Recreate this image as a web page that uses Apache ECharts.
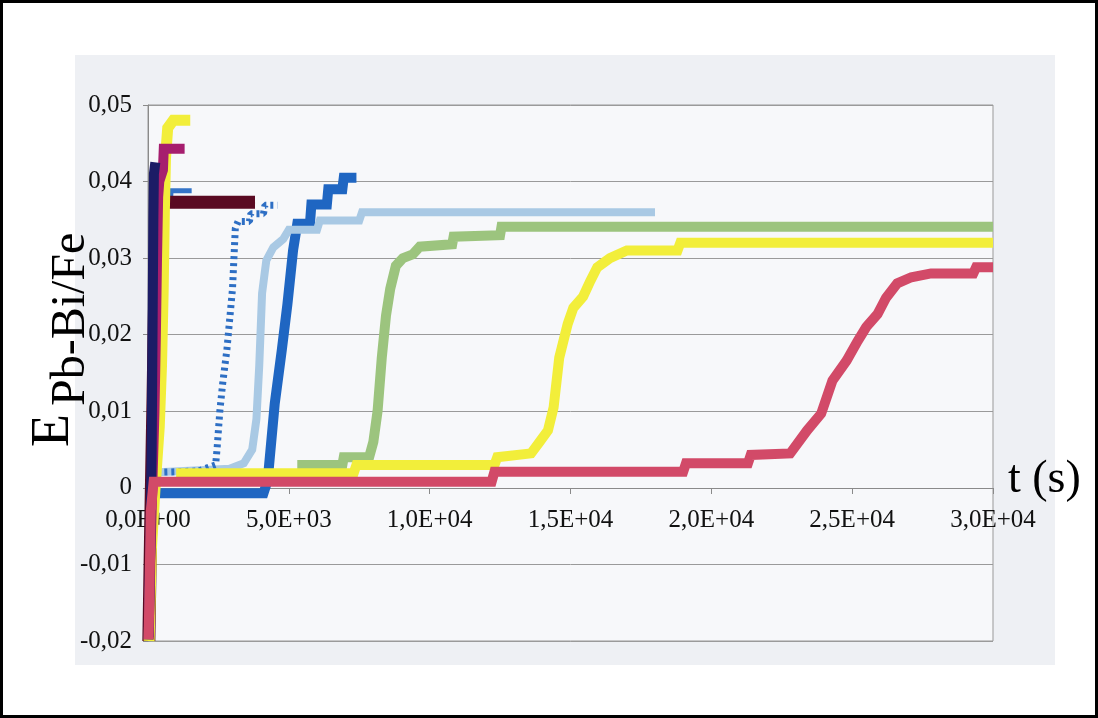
<!DOCTYPE html>
<html><head><meta charset="utf-8">
<script src="https://cdn.jsdelivr.net/npm/echarts@6/dist/echarts.min.js"></script>
<style>html,body{margin:0;padding:0;background:#fff}#c{width:1098px;height:718px}</style>
</head><body><div id="c"></div>
<script>
// ---- tick labels ----
const xTickValues = [0, 5000, 10000, 15000, 20000, 25000, 30000];
const xTickLabels = ['0,0E+00', '5,0E+03', '1,0E+04', '1,5E+04', '2,0E+04', '2,5E+04', '3,0E+04'];
const yTickValues = [-0.02, -0.01, 0, 0.01, 0.02, 0.03, 0.04, 0.05];
const yTickLabels = ['-0,02', '-0,01', '0', '0,01', '0,02', '0,03', '0,04', '0,05'];

// ---- series values: t (s) and E (V) ----
const navyT = [20, 60, 100, 130, 150, 170, 190, 210, 260];
const navyE = [-0.0198, -0.012, -0.004, 0.005, 0.015, 0.025, 0.035, 0.041, 0.0425];

const magT = [30, 80, 150, 230, 280, 320, 360, 400, 530, 560, 1300];
const magE = [-0.0195, -0.01, 0.0, 0.01, 0.02, 0.03, 0.038, 0.04, 0.0415, 0.0443, 0.0443];

const yel2T = [40, 120, 250, 400, 480, 540, 580, 620, 700, 900, 1500];
const yel2E = [-0.02, -0.008, 0.0, 0.008, 0.016, 0.026, 0.036, 0.043, 0.047, 0.048, 0.048];

const marT = [30, 100, 180, 260, 350, 400, 3800];
const marE = [-0.02, -0.004, 0.012, 0.03, 0.036, 0.0373, 0.0373];

const bl39T = [50, 120, 200, 300, 400, 500, 800, 820, 1550];
const bl39E = [-0.02, -0.005, 0.012, 0.028, 0.036, 0.0378, 0.0378, 0.0388, 0.0388];

const dashT = [30, 100, 1800, 2400, 2450, 2550, 2650, 2800, 2900, 3000, 3100, 3200, 3600, 3650, 4100, 4150, 4600];
const dashE = [-0.02, 0.002, 0.0022, 0.003, 0.005, 0.01, 0.0136, 0.018, 0.022, 0.026, 0.0339, 0.0348, 0.0348, 0.0358, 0.0358, 0.0369, 0.0369];

const lbT = [20, 80, 150, 2900, 3400, 3700, 3850, 3950, 4050, 4200, 4450, 4800, 5000, 6000, 6100, 7500, 7600, 18000];
const lbE = [-0.02, -0.008, 0.002, 0.0025, 0.0032, 0.005, 0.009, 0.016, 0.0254, 0.0297, 0.0314, 0.0325, 0.0337, 0.0337, 0.0349, 0.0349, 0.036, 0.036];

const dbT = [40, 120, 200, 4100, 4250, 4500, 4750, 4950, 5150, 5300, 5750, 5800, 6350, 6400, 6900, 6950, 7400];
const dbE = [-0.02, -0.006, -0.0007, -0.0007, 0.001, 0.011, 0.018, 0.024, 0.031, 0.0345, 0.0345, 0.037, 0.037, 0.039, 0.039, 0.0405, 0.0405];

const grT = [5300, 6900, 6950, 7850, 8000, 8150, 8300, 8450, 8600, 8800, 9050, 9400, 9650, 10800, 10850, 12500, 12550, 30000];
const grE = [0.003, 0.003, 0.004, 0.004, 0.006, 0.01, 0.017, 0.0225, 0.026, 0.029, 0.030, 0.0305, 0.0315, 0.0318, 0.0328, 0.033, 0.0341, 0.0341];

const ymT = [1000, 7300, 7400, 12300, 12400, 13600, 13900, 14200, 14400, 14600, 14900, 15100, 15450, 15700, 15950, 16400, 17000, 18800, 18900, 30000];
const ymE = [0.0019, 0.0019, 0.003, 0.003, 0.004, 0.0045, 0.006, 0.0075, 0.0105, 0.017, 0.0214, 0.0235, 0.025, 0.027, 0.0288, 0.030, 0.031, 0.031, 0.032, 0.032];

const rdT = [20, 60, 100, 200, 12200, 12300, 19000, 19100, 21300, 21400, 22800, 23400, 23900, 24300, 24800, 25200, 25500, 25900, 26200, 26600, 27100, 27800, 29300, 29400, 30000];
const rdE = [-0.0198, -0.012, -0.003, 0.0008, 0.0008, 0.0021, 0.0021, 0.0032, 0.0032, 0.0043, 0.0045, 0.0075, 0.0097, 0.014, 0.0166, 0.0192, 0.021, 0.0227, 0.0248, 0.0267, 0.0275, 0.028, 0.028, 0.0288, 0.0288];

const zip = (a, b) => a.map((v, i) => [v, b[i]]);
const serif = '"Liberation Serif", "DejaVu Serif", serif';

function mk(name, t, e, color, width, extra) {
  return Object.assign({
    name: name, type: 'line', data: zip(t, e), symbol: 'none', silent: true,
    lineStyle: { color: color, width: width, cap: 'butt', join: 'miter' }
  }, extra || {});
}

const series = [
  mk('db', dbT, dbE, '#1f66c2', 10),
  mk('lb', lbT, lbE, '#a9c9e4', 8),
  mk('gr', grT, grE, '#9cc47e', 10),
  mk('dash', dashT, dashE, '#2e6fc4', 7, { lineStyle: { color: '#2e6fc4', width: 7, type: [3, 4], cap: 'butt' } }),
  mk('bl39', bl39T, bl39E, '#3474c8', 5),
  mk('mar', marT, marE, '#5a0a22', 13),
  mk('yel2', yel2T, yel2E, '#f2ee3a', 11),
  mk('mag', magT, magE, '#a61e6e', 10),
  mk('navy', navyT, navyE, '#1c1c66', 10),
  mk('ym', ymT, ymE, '#f2ee3a', 10),
  mk('rd', rdT, rdE, '#d24a68', 10)
];

const chart = echarts.init(document.getElementById('c'), null, { renderer: 'canvas' });
chart.setOption({
  animation: false,
  backgroundColor: '#ffffff',
  graphic: [
    { type: 'rect', z: -20, shape: { x: 1.5, y: 1.5, width: 1095, height: 715 }, style: { fill: '#ffffff', stroke: '#000000', lineWidth: 3 } },
    { type: 'rect', z: -19, shape: { x: 75, y: 55, width: 980, height: 610 }, style: { fill: '#eef0f4' } },
    { type: 'text', z: 100, x: 54, y: 447, rotation: Math.PI / 2,
      style: { text: 'E', font: '54px ' + serif, fill: '#000', align: 'left', verticalAlign: 'middle' } },
    { type: 'text', z: 100, x: 71, y: 406, rotation: Math.PI / 2,
      style: { text: 'Pb-Bi/Fe', font: '48px ' + serif, fill: '#000', align: 'left', verticalAlign: 'middle' } },
    { type: 'text', z: 100, x: 1008, y: 480,
      style: { text: 't (s)', font: '46px ' + serif, fill: '#000', align: 'left', verticalAlign: 'middle' } }
  ],
  grid: { left: 148, right: 105, top: 105, bottom: 77, show: true, backgroundColor: '#f7f8fa', borderColor: '#999', borderWidth: 1 },
  xAxis: {
    type: 'value', min: 0, max: 30000, interval: 5000, position: 'bottom', offset: -153,
    axisLine: { onZero: false, lineStyle: { color: '#8a8a8a', width: 1 } },
    axisTick: { show: true, length: 6, lineStyle: { color: '#8a8a8a' } },
    splitLine: { show: false },
    axisLabel: {
      margin: 20, fontSize: 25, fontFamily: serif, color: '#111',
      formatter: v => { const i = xTickValues.findIndex(x => Math.abs(x - v) < 1e-6); return i >= 0 ? xTickLabels[i] : ''; }
    }
  },
  yAxis: {
    type: 'value', min: -0.02, max: 0.05, interval: 0.01,
    axisLine: { show: true, onZero: false, lineStyle: { color: '#8a8a8a', width: 1 } },
    axisTick: { show: true, length: 5, lineStyle: { color: '#8a8a8a' } },
    splitLine: { show: true, lineStyle: { color: '#9a9a9a', width: 1 } },
    axisLabel: {
      margin: 16, fontSize: 25, fontFamily: serif, color: '#111',
      formatter: v => { const i = yTickValues.findIndex(x => Math.abs(x - v) < 1e-9); return i >= 0 ? yTickLabels[i] : ''; }
    }
  },
  series: series
});
</script>
</body></html>
